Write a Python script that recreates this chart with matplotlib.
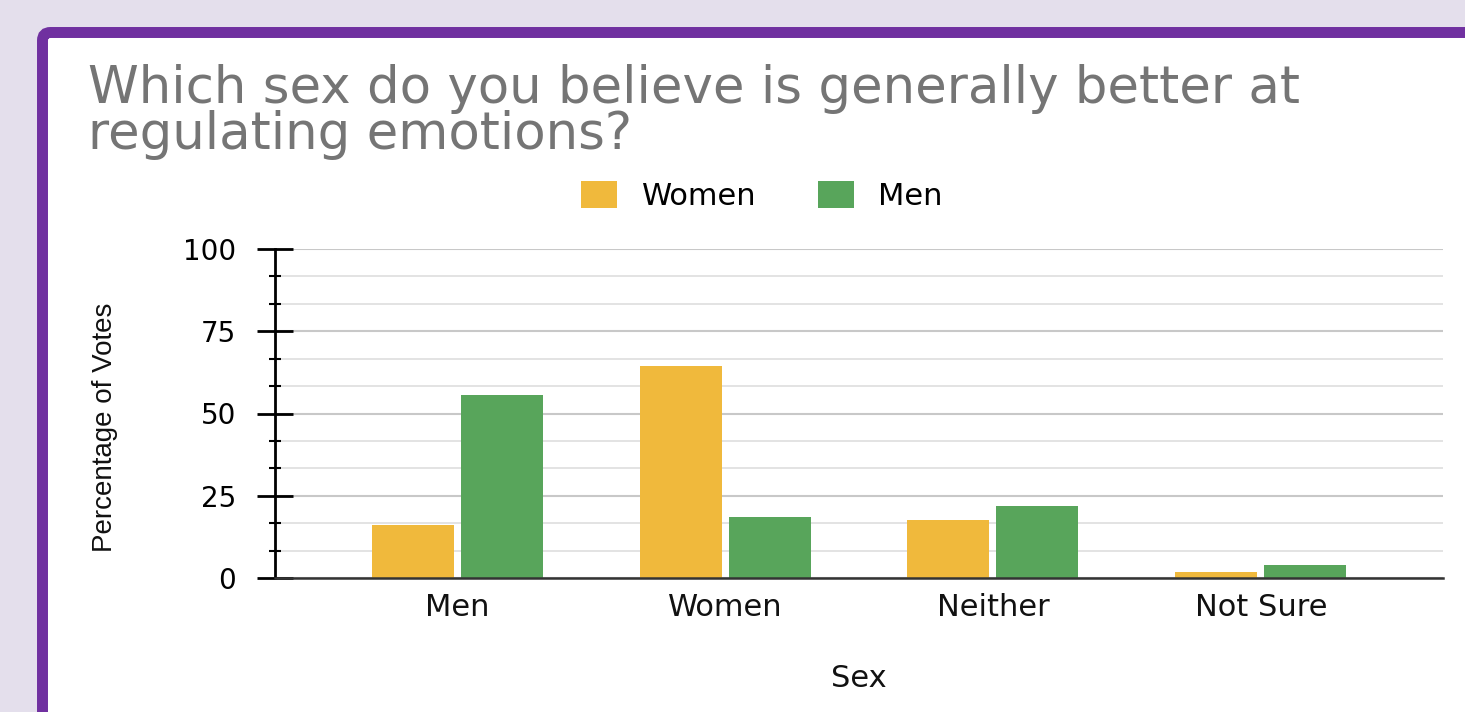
import matplotlib.pyplot as plt
from matplotlib.patches import FancyBboxPatch, Patch
from matplotlib.ticker import MultipleLocator
import numpy as np

categories = ['Men', 'Women', 'Neither', 'Not Sure']
women_votes = [16.2, 64.3, 17.7, 1.7]
men_votes = [55.5, 18.4, 22.0, 3.8]
series_names = ['Women', 'Men']
y_ticks = [0, 25, 50, 75, 100]
title = 'Which sex do you believe is generally better at\nregulating emotions?'

YELLOW = '#f0b93c'
GREEN = '#58a55b'


def main():
    plt.rcParams['font.family'] = ['DejaVu Sans']
    fig = plt.figure(figsize=(14.65, 7.12), dpi=100)
    fig.patch.set_facecolor('#e4dfec')

    # white card with purple border (top-left corner visible)
    card = FancyBboxPatch((0.425, -1.0), 20, 6.795 + 1.0,
                          boxstyle='round,pad=0,rounding_size=0.08',
                          facecolor='white', edgecolor='#7030a0',
                          linewidth=7.9, transform=fig.dpi_scale_trans,
                          zorder=0)
    fig.add_artist(card)

    fig.text(88 / 1465, 1 - 64 / 712, title, fontsize=37, color='#757575',
             va='top', ha='left', linespacing=0.9)

    ax = fig.add_axes([275 / 1465, 1 - 578 / 712, (1443 - 275) / 1465, (578 - 249) / 712])
    ax.set_facecolor('none')

    x = np.arange(len(categories))
    w = 0.306
    off = 0.166
    ax.bar(x - off, women_votes, w, color=YELLOW, zorder=3)
    ax.bar(x + off, men_votes, w, color=GREEN, zorder=3)

    ax.set_xlim(-0.68, 3.68)
    ax.set_ylim(0, 100)
    ax.set_yticks(y_ticks)
    ax.yaxis.set_minor_locator(MultipleLocator(25 / 3))
    ax.set_xticks(x)
    ax.set_xticklabels(categories)

    ax.grid(axis='y', which='major', color='#c8c8c8', linewidth=1.5, zorder=0)
    ax.grid(axis='y', which='minor', color='#dedede', linewidth=1.2, zorder=0)

    for s in ['top', 'right']:
        ax.spines[s].set_visible(False)
    ax.spines['left'].set_linewidth(2)
    ax.spines['left'].set_color('black')
    ax.spines['bottom'].set_linewidth(1.8)
    ax.spines['bottom'].set_color('#333333')
    ax.spines['bottom'].set_zorder(4)

    ax.tick_params(axis='y', which='major', direction='inout', length=26, width=2,
                   labelsize=20, pad=15, colors='black')
    ax.tick_params(axis='y', which='minor', direction='inout', length=8, width=1.5)
    ax.tick_params(axis='x', length=0, labelsize=22, pad=11, labelcolor='#111111')

    ax.set_xlabel('Sex', fontsize=22, color='#111111')
    ax.xaxis.set_label_coords(0.5, -0.262)
    ax.set_ylabel('Percentage of Votes', fontsize=20, color='#111111',
                  family=['Liberation Sans'])
    ax.yaxis.set_label_coords(-0.1345, 0.459)

    handles = [Patch(facecolor=YELLOW), Patch(facecolor=GREEN)]
    fig.legend(handles, series_names, loc='center', ncol=2, frameon=False,
               bbox_to_anchor=(762 / 1465, 1 - 196 / 712), fontsize=22,
               handlelength=1.18, handleheight=0.95, handletextpad=0.8,
               columnspacing=2.0)

    fig.savefig('out.png', dpi=100, facecolor=fig.get_facecolor())


if __name__ == "__main__":
    main()
